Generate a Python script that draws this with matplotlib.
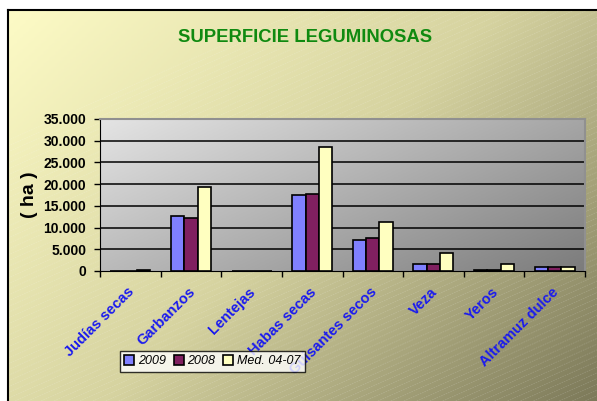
import matplotlib
matplotlib.use("Agg")
import matplotlib.pyplot as plt
import numpy as np
from matplotlib.colors import LinearSegmentedColormap

# Datos de la grafica (hectareas)
categorias = ["Judías secas", "Garbanzos", "Lentejas", "Habas secas",
              "Guisantes secos", "Veza", "Yeros", "Altramuz dulce"]
serie_2009 = [100, 12600, 100, 17400, 7250, 1600, 300, 950]
serie_2008 = [100, 12300, 100, 17650, 7700, 1500, 300, 850]
serie_med = [150, 19250, 100, 28650, 11250, 4150, 1500, 950]
nombres = ["2009", "2008", "Med. 04-07"]
colores = ["#8080ff", "#802060", "#ffffc0"]
yticks = [0, 5000, 10000, 15000, 20000, 25000, 30000, 35000]
ytick_labels = ["0", "5.000", "10.000", "15.000", "20.000", "25.000", "30.000", "35.000"]

plt.rcParams['font.family'] = ['Liberation Sans', 'DejaVu Sans']

W, H = 597, 401
fig = plt.figure(figsize=(W / 100, H / 100), dpi=100)
fig.patch.set_facecolor("white")

# Fondo del grafico: degradado amarillo -> oliva con rayas diagonales
bg = fig.add_axes([8 / W, 0, 1 - 8 / W, 1 - 10 / H])
bg.set_axis_off()
xx, yy = np.meshgrid(np.linspace(0, 1, 200), np.linspace(0, 1, 200))
t = (xx * 0.6 + yy * 0.4)
cmap_bg = LinearSegmentedColormap.from_list("bg", ["#fdfbc6", "#d6d3a0", "#7d7a5a"])
bg.imshow(t, cmap=cmap_bg, extent=[0, 1, 0, 1], aspect="auto", origin="upper")
for k in np.arange(-1.0, 1.0, 0.022):
    bg.plot([k, k + 1.5], [0, 1], color="white", alpha=0.15, lw=0.6, ls=(0, (2, 1)))
bg.set_xlim(0, 1)
bg.set_ylim(0, 1)
bg.plot([0, 0], [0, 1], color="black", lw=1.5, clip_on=False)
bg.plot([0, 1], [1, 1], color="black", lw=1.5, clip_on=False)

# Area de trazado
ax = fig.add_axes([100 / W, 1 - 271 / H, 485 / W, 152 / H])
cmap_ax = LinearSegmentedColormap.from_list("ax", ["#e4e4e4", "#b0b0b0", "#7c7c7c"])
ax.imshow(t, cmap=cmap_ax, extent=[-0.5, len(categorias) - 0.5, 0, 35000],
          aspect="auto", origin="upper", zorder=0)

x = np.arange(len(categorias))
w = 0.22
for i, (vals, nom, col) in enumerate(zip([serie_2009, serie_2008, serie_med], nombres, colores)):
    ax.bar(x + (i - 1) * w, vals, w, color=col, edgecolor="black", linewidth=1.2,
           label=nom, zorder=3)

ax.set_xlim(-0.5, len(categorias) - 0.5)
ax.set_ylim(0, 35000)
ax.set_yticks(yticks)
ax.set_yticklabels(ytick_labels, fontsize=10, fontweight="bold")
for yv in yticks[1:]:
    ax.axhline(yv, color="black", lw=1.1, zorder=1)

ax.set_xticks(np.arange(len(categorias) + 1) - 0.5)
ax.set_xticklabels([])
ax.tick_params(axis="x", length=4, width=1, direction="out")
ax.tick_params(axis="y", length=4, width=1, direction="out", pad=6)
for i, c in enumerate(categorias):
    ax.text(i - 0.05, -3200, c, rotation=45, rotation_mode="anchor", ha="right", va="top",
            color="#1a1aee", fontsize=10.5, fontweight="bold")

ax.spines["left"].set_color("black")
ax.spines["bottom"].set_color("black")
ax.spines["top"].set_color("#909090")
ax.spines["right"].set_color("#909090")
ax.spines["top"].set_linewidth(1.5)
ax.spines["right"].set_linewidth(1.5)

ax.set_ylabel("( ha )", fontsize=14, fontweight="bold", labelpad=4)

fig.text(305 / W, 1 - 37 / H, "SUPERFICIE LEGUMINOSAS", ha="center", va="center",
         color="#108a10", fontsize=13.3, fontweight="bold")

leg = ax.legend(loc="upper left", bbox_to_anchor=(120 / W, 1 - 351 / H),
                bbox_transform=fig.transFigure, ncol=3, frameon=True, fancybox=False,
                prop={"style": "italic", "size": 9}, handlelength=0.8, handleheight=0.8,
                handletextpad=0.3, columnspacing=0.6, borderpad=0.35, borderaxespad=0)
leg.get_frame().set_edgecolor("black")
leg.get_frame().set_linewidth(1)
leg.set_zorder(5)

fig.savefig("out.png", dpi=100, facecolor="white")
